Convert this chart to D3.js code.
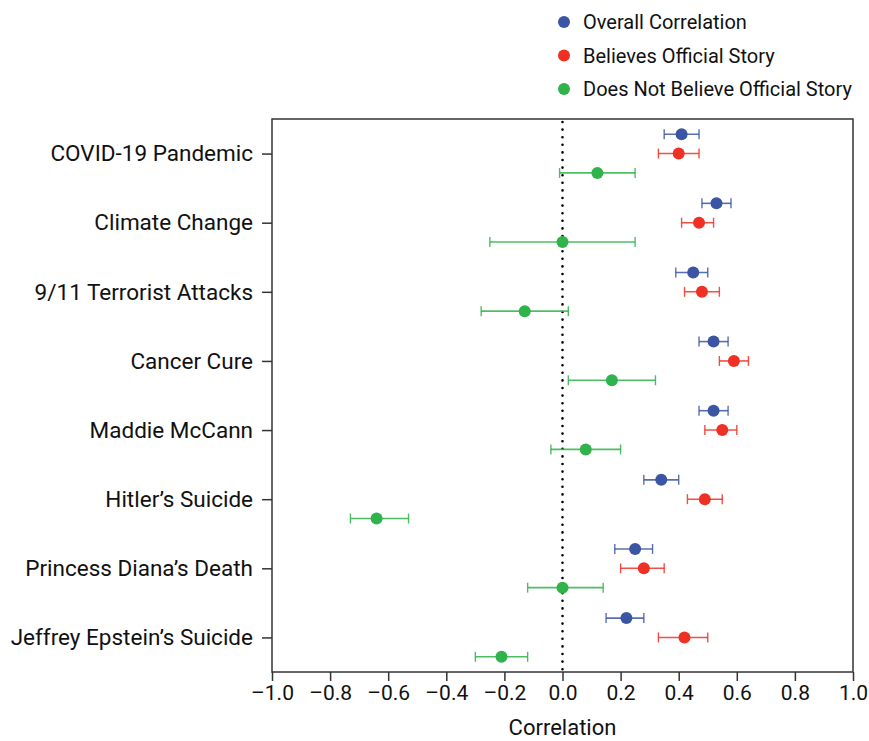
<!DOCTYPE html>
<html>
<head>
<meta charset="utf-8">
<script src="https://cdn.jsdelivr.net/npm/d3@7/dist/d3.min.js"></script>
<style>
  html, body { margin: 0; padding: 0; background: #fff; }
  svg { display: block; }
  text { font-family: "Liberation Sans Narrow", "Arial Narrow", "Roboto", sans-serif; fill: #111; }
</style>
</head>
<body>
<svg id="chart" width="869" height="741"></svg>
<script>
// Events (top to bottom)
const categories = [
  "COVID-19 Pandemic", "Climate Change", "9/11 Terrorist Attacks", "Cancer Cure",
  "Maddie McCann", "Hitler\u2019s Suicide", "Princess Diana\u2019s Death", "Jeffrey Epstein\u2019s Suicide"
];

const seriesNames = ["Overall Correlation", "Believes Official Story", "Does Not Believe Official Story"];
const seriesColors = ["#3b55a4", "#ee3124", "#2fb34a"];

// Correlation estimates with lower / upper confidence bounds
const overall     = [0.41, 0.53, 0.45, 0.52, 0.52, 0.34, 0.25, 0.22];
const overallLo   = [0.35, 0.48, 0.39, 0.47, 0.47, 0.28, 0.18, 0.15];
const overallHi   = [0.47, 0.58, 0.50, 0.57, 0.57, 0.40, 0.31, 0.28];

const believes    = [0.40, 0.47, 0.48, 0.59, 0.55, 0.49, 0.28, 0.42];
const believesLo  = [0.33, 0.41, 0.42, 0.54, 0.49, 0.43, 0.20, 0.33];
const believesHi  = [0.47, 0.52, 0.54, 0.64, 0.60, 0.55, 0.35, 0.50];

const notBelieve   = [0.12, 0.00, -0.13, 0.17, 0.08, -0.64, 0.00, -0.21];
const notBelieveLo = [-0.01, -0.25, -0.28, 0.02, -0.04, -0.73, -0.12, -0.30];
const notBelieveHi = [0.25, 0.25, 0.02, 0.32, 0.20, -0.53, 0.14, -0.12];

const xTicks = [-1.0, -0.8, -0.6, -0.4, -0.2, 0.0, 0.2, 0.4, 0.6, 0.8, 1.0];

const series = [
  { name: seriesNames[0], color: seriesColors[0], est: overall,    lo: overallLo,    hi: overallHi },
  { name: seriesNames[1], color: seriesColors[1], est: believes,   lo: believesLo,   hi: believesHi },
  { name: seriesNames[2], color: seriesColors[2], est: notBelieve, lo: notBelieveLo, hi: notBelieveHi }
];

const svg = d3.select("#chart");
const margin = { top: 119, right: 16, bottom: 69, left: 272 };
const width = 869 - margin.left - margin.right;
const height = 741 - margin.top - margin.bottom;

const x = d3.scaleLinear().domain([-1, 1]).range([0, width]);
const y = d3.scalePoint().domain(categories).range([0, height]).padding(0.5);
const sub = d3.scalePoint().domain(seriesNames).range([-y.step() * 0.28, y.step() * 0.28]);

const g = svg.append("g").attr("transform", `translate(${margin.left},${margin.top})`);

// zero reference line
g.append("line")
  .attr("x1", x(0)).attr("x2", x(0))
  .attr("y1", 3).attr("y2", height)
  .attr("stroke", "#000")
  .attr("stroke-width", 2.6)
  .attr("stroke-linecap", "round")
  .attr("stroke-dasharray", "0,7.6");

// error bars and points
series.forEach(s => {
  const sg = g.append("g");
  const rows = categories.map((c, i) => ({ c, est: s.est[i], lo: s.lo[i], hi: s.hi[i] }));
  const yy = d => y(d.c) + sub(s.name);
  sg.selectAll(".bar").data(rows).join("line")
    .attr("x1", d => x(d.lo)).attr("x2", d => x(d.hi))
    .attr("y1", yy).attr("y2", yy)
    .attr("stroke", s.color).attr("stroke-width", 1.6).attr("stroke-opacity", 0.85);
  ["lo", "hi"].forEach(k => {
    sg.selectAll(".cap-" + k).data(rows).join("line")
      .attr("x1", d => x(d[k])).attr("x2", d => x(d[k]))
      .attr("y1", d => yy(d) - 5).attr("y2", d => yy(d) + 5)
      .attr("stroke", s.color).attr("stroke-width", 1.4).attr("stroke-opacity", 0.85);
  });
  sg.selectAll("circle").data(rows).join("circle")
    .attr("cx", d => x(d.est)).attr("cy", yy).attr("r", 6)
    .attr("fill", s.color);
});

// frame
g.append("rect")
  .attr("x", 0).attr("y", 0).attr("width", width).attr("height", height)
  .attr("fill", "none").attr("stroke", "#333").attr("stroke-width", 1.5);

// axes
const xAxis = g.append("g").attr("transform", `translate(0,${height})`)
  .call(d3.axisBottom(x).tickValues(xTicks).tickSize(9).tickPadding(4)
    .tickFormat(d => (d < 0 ? "\u2013" : "") + Math.abs(d).toFixed(1)));
const yAxis = g.append("g")
  .call(d3.axisLeft(y).tickSize(10).tickPadding(9));

[xAxis, yAxis].forEach(a => {
  a.select(".domain").remove();
  a.selectAll(".tick line").attr("stroke", "#333").attr("stroke-width", 1.5);
  a.selectAll(".tick text").attr("fill", "#111");
});
xAxis.selectAll(".tick text").style("font-size", "21px");
yAxis.selectAll(".tick text").style("font-size", "22.5px");

svg.append("text")
  .attr("x", margin.left + x(0)).attr("y", 735)
  .attr("text-anchor", "middle")
  .style("font-size", "22px")
  .text("Correlation");

// legend
const legend = svg.append("g").attr("transform", "translate(564,22)");
series.forEach((s, i) => {
  const row = legend.append("g").attr("transform", `translate(0,${i * 33.5})`);
  row.append("circle").attr("r", 6).attr("fill", s.color);
  row.append("text").attr("x", 19).attr("y", 7)
    .style("font-size", "20px").text(s.name);
});
</script>
</body>
</html>
